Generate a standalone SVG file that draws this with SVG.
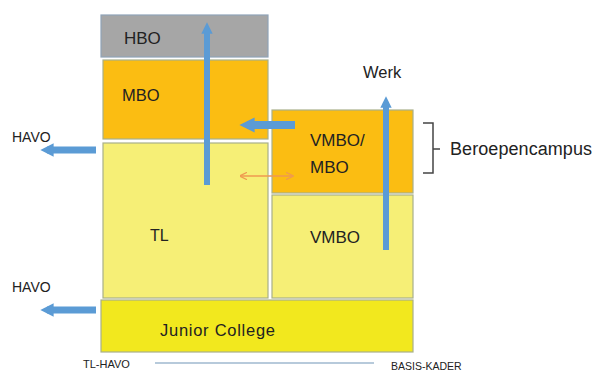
<svg xmlns="http://www.w3.org/2000/svg" width="595" height="371" viewBox="0 0 595 371">
<style>
.t{font-family:"Liberation Sans",Arial,sans-serif;fill:#222;}
.box{stroke:#a9b08a;stroke-width:1.2;}
.blue{fill:none;stroke:#5b9bd5;}
</style>
<defs>
<marker id="bh" viewBox="0 0 10 10" refX="5" refY="5" markerWidth="1.9" markerHeight="1.9" orient="auto" markerUnits="strokeWidth">
<path d="M0,0 L10,5 L0,10 Z" fill="#5b9bd5"/>
</marker>
<marker id="oh" viewBox="0 0 10 10" refX="8" refY="5" markerWidth="5" markerHeight="5" orient="auto-start-reverse" markerUnits="strokeWidth">
<path d="M0,0 L10,5 L0,10" fill="none" stroke="#ef9a50" stroke-width="1.5"/>
</marker>
</defs>
<rect width="595" height="371" fill="#fff"/>
<g id="hbo">
<rect x="101" y="15" width="167" height="42" fill="#a6a6a6" stroke="#8fa3b8" stroke-width="1.2"/>
<text class="t" x="124" y="44" font-size="17">HBO</text>
</g>
<g id="mbo">
<rect class="box" x="103" y="60" width="165" height="79" fill="#fbbd12"/>
<text class="t" x="122" y="101" font-size="16.5">MBO</text>
</g>
<g id="tl">
<rect class="box" x="103" y="143" width="165" height="155" fill="#f6ef76"/>
<text class="t" x="150" y="241" font-size="16">TL</text>
</g>
<g id="vmbo-mbo">
<rect class="box" x="272" y="110" width="141" height="83" fill="#fbbd12"/>
<text class="t" x="310" y="146" font-size="17">VMBO/</text>
<text class="t" x="310" y="173" font-size="17">MBO</text>
</g>
<g id="vmbo">
<rect class="box" x="272" y="195" width="141" height="103" fill="#f6ef76"/>
<text class="t" x="310" y="243" font-size="17">VMBO</text>
</g>
<g id="junior-college">
<rect class="box" x="101" y="300" width="312" height="52" fill="#f2e81e"/>
<text class="t" x="160" y="336" font-size="16.5" textLength="115">Junior College</text>
</g>
<g id="labels">
<text class="t" x="363" y="78" font-size="16.5">Werk</text>
<text class="t" x="12" y="142" font-size="14">HAVO</text>
<text class="t" x="12" y="292" font-size="14">HAVO</text>
<text class="t" x="450" y="155" font-size="18" textLength="142">Beroepencampus</text>
<text class="t" x="83" y="368" font-size="11">TL-HAVO</text>
<text class="t" x="391" y="370" font-size="10.5">BASIS-KADER</text>
</g>
<g id="connectors">
<line class="blue" x1="207" y1="185" x2="207" y2="28" stroke-width="6" marker-end="url(#bh)"/>
<line class="blue" x1="386" y1="250" x2="386" y2="102" stroke-width="6" marker-end="url(#bh)"/>
<line class="blue" x1="295" y1="125" x2="247" y2="125" stroke-width="8" marker-end="url(#bh)"/>
<line class="blue" x1="96" y1="150" x2="47" y2="150" stroke-width="7" marker-end="url(#bh)"/>
<line class="blue" x1="96" y1="310" x2="47" y2="310" stroke-width="7" marker-end="url(#bh)"/>
<line x1="241" y1="176" x2="292" y2="176" stroke="#ef9a50" stroke-width="1.5" marker-start="url(#oh)" marker-end="url(#oh)"/>
<line x1="155" y1="363" x2="374" y2="363" stroke="#9fb8cf" stroke-width="1.5"/>
<path d="M423,123 H433 V173 H423 M433,149 H440" fill="none" stroke="#444" stroke-width="1.5"/>
</g>
</svg>
